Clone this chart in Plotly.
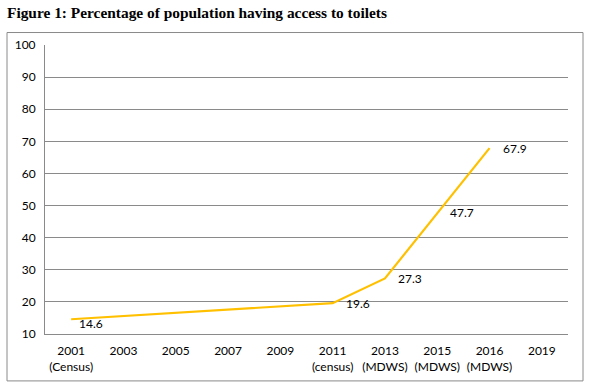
import plotly.graph_objects as go

categories = ["2001<br>(Census)", "2003", "2005", "2007", "2009",
              "2011<br>(census)", "2013<br>(MDWS)", "2015<br>(MDWS)",
              "2016<br>(MDWS)", "2019"]
point_cats = ["2001<br>(Census)", "2011<br>(census)", "2013<br>(MDWS)",
              "2015<br>(MDWS)", "2016<br>(MDWS)"]
point_vals = [14.6, 19.6, 27.3, 47.7, 67.9]
y_ticks = [10, 20, 30, 40, 50, 60, 70, 80, 90, 100]
title_text = "Figure 1: Percentage of population having access to toilets"

W, H = 589, 387
L, R, T, B = 45, 21, 44.5, 53
pw, ph = W - L - R, H - T - B

def px_x(x):
    return (x - L) / pw

def px_y(y):
    return (H - B - y) / ph

fig = go.Figure()
fig.add_trace(go.Scatter(
    x=point_cats, y=point_vals, mode="lines",
    line=dict(color="#FFC000", width=2.2),
    hoverinfo="skip", showlegend=False,
))

for i, (c, v) in enumerate(zip(point_cats, point_vals)):
    fig.add_annotation(
        x=c, y=v, xref="x", yref="y", text=f"{v}",
        showarrow=False, xanchor="left", yanchor="middle",
        xshift=6 if i == 0 else 11, yshift=-4 if i == 0 else 0,
        font=dict(family="Lato", size=12, color="#000000"),
    )

# chart border
fig.add_shape(type="rect", xref="paper", yref="paper",
              x0=px_x(7), x1=px_x(583), y0=px_y(381), y1=px_y(32),
              line=dict(color="#8a8a8a", width=1), fillcolor="rgba(0,0,0,0)",
              layer="below")

fig.add_annotation(
    xref="paper", yref="paper", x=px_x(5), y=px_y(12),
    xanchor="left", yanchor="middle", showarrow=False,
    text=f"<b>{title_text}</b>",
    font=dict(family="Liberation Serif", size=15.4, color="#000000"),
)

fig.update_layout(
    width=W, height=H,
    margin=dict(l=L, r=R, t=T, b=B),
    paper_bgcolor="white", plot_bgcolor="white",
    xaxis=dict(
        type="category", categoryorder="array", categoryarray=categories,
        range=[-0.5, len(categories) - 0.5],
        showgrid=False, showline=True, linecolor="#8a8a8a", linewidth=1,
        ticks="", ticklabelstandoff=6,
        tickfont=dict(family="Lato", size=12, color="#000000"),
        fixedrange=True,
    ),
    yaxis=dict(
        range=[10, 100], tickvals=y_ticks,
        showgrid=True, gridcolor="#8a8a8a", gridwidth=1,
        showline=True, linecolor="#8a8a8a", linewidth=1,
        zeroline=False, ticks="", ticklabelstandoff=6,
        tickfont=dict(family="Lato", size=12, color="#000000"),
        fixedrange=True,
    ),
)

fig.write_html(
    "out.html",
    config={"displayModeBar": False},
    post_script="document.body.style.margin='0';document.body.style.overflow='hidden';",
)
